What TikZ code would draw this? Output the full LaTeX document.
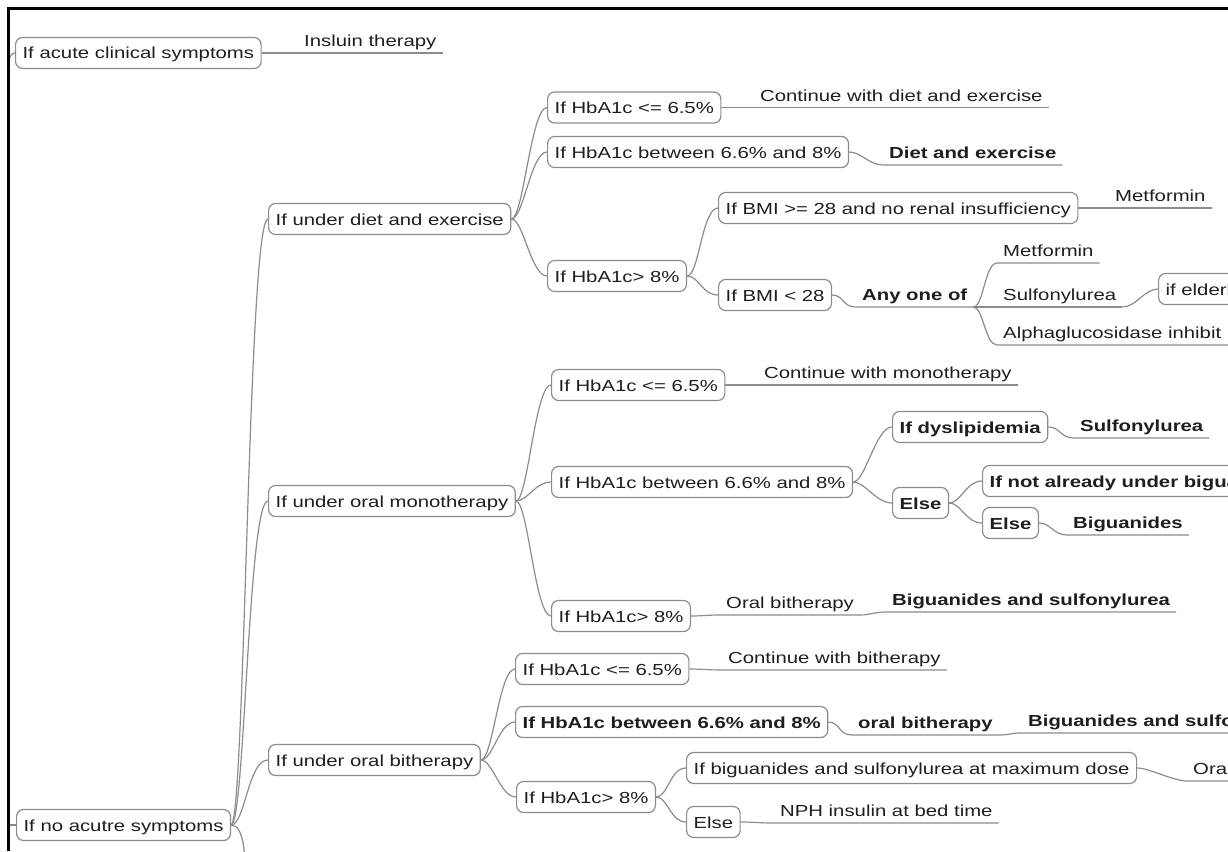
\documentclass[tikz,border=0pt]{standalone}
\usepackage{fontspec}
\setmainfont{Liberation Sans}[FakeStretch=1.27]
\definecolor{lin}{HTML}{8C8C8C}
\definecolor{txt}{HTML}{1E1E1E}
\newcommand{\mmfont}{\fontsize{16pt}{19pt}\selectfont}
\newcommand{\mmlink}[2]{\draw[conn] (#1.east) .. controls +(12,0) and +(-16,0) .. (#2.west);}
\newcommand{\mmleaf}[2]{\draw[conn] (#1.east) .. controls +(12,0) and +(-14,0) .. (#2.south west) -- (#2.south east);}
\newcommand{\mmhub}[2]{\draw[conn] (#1.south east) .. controls +(10,0) and +(-12,0) .. (#2.south west) -- (#2.south east);}
\tikzset{
  base/.style={font=\mmfont, text=txt, text height=12pt, text depth=0pt, inner xsep=7pt},
  box/.style={base, draw=lin, line width=1.2pt, rounded corners=7pt, minimum height=31pt, inner ysep=0pt, anchor=west},
  bbox/.style={box, font=\mmfont\bfseries},
  leaf/.style={base, inner xsep=6pt, inner ysep=6pt, anchor=south west},
  bleaf/.style={leaf, font=\mmfont\bfseries},
  conn/.style={draw=lin, line width=1.2pt},
  frame/.style={draw=black, line width=3pt},
}
\begin{document}
\begin{tikzpicture}[x=1pt,y=-1pt]
\useasboundingbox (0,0) rectangle (1228,851);
\begin{scope}
\clip (10,10) rectangle (1228,851);
% level 0
\node[box] (acute) at (15,53) {If acute clinical symptoms};
\node[leaf] (insulin) at (298,53) {Insluin therapy};
\node[box] (noacute) at (16,825) {If no acutre symptoms};
\coordinate (rootA) at (2,75);
\coordinate (rootB) at (0,825);
\coordinate (offB) at (246,900);
% level 1
\node[box] (diet) at (268,219) {If under diet and exercise};
\node[box] (mono) at (268,501) {If under oral monotherapy};
\node[box] (bi) at (268,760) {If under oral bitherapy};
% diet subtree
\node[box] (d1) at (547,107.5) {If HbA1c <= 6.5\%};
\node[leaf] (cont1) at (754,107.5) {Continue with diet and exercise};
\node[box] (d2) at (547,152) {If HbA1c between 6.6\% and 8\%};
\node[bleaf] (dietex) at (883,165) {Diet and exercise};
\node[box] (d3) at (547,276) {If HbA1c> 8\%};
\node[box] (d31) at (718,208) {If BMI >= 28 and no renal insufficiency};
\node[leaf] (metf1) at (1109,208) {Metformin};
\node[box] (d32) at (718,295) {If BMI < 28};
\node[bleaf] (anyone) at (856,307) {Any one of};
\node[leaf] (metf2) at (997,263) {Metformin};
\node[leaf] (sulf1) at (997,307) {Sulfonylurea};
\node[box] (elderly) at (1158,289) {if elderl\hspace*{30pt}};
\node[leaf] (alpha) at (997,345) {Alphaglucosidase inhibit\hspace*{20pt}};
% mono subtree
\node[box] (m1) at (551,385) {If HbA1c <= 6.5\%};
\node[leaf] (cont2) at (758,385) {Continue with monotherapy};
\node[box] (m2) at (551,482) {If HbA1c between 6.6\% and 8\%};
\node[bbox] (dys) at (892,427) {If dyslipidemia};
\node[bleaf] (sulf2) at (1074,438) {Sulfonylurea};
\node[bbox] (else1) at (892,503) {Else};
\node[bbox] (notbig) at (982,481) {If not already under bigua\hspace*{30pt}};
\node[bbox] (else2) at (982,523) {Else};
\node[bleaf] (bigu) at (1067,535) {Biguanides};
\node[box] (m3) at (551,616) {If HbA1c> 8\%};
\node[leaf] (oralbi) at (720,615) {Oral bitherapy};
\node[bleaf] (bigsulf) at (886,612) {Biguanides and sulfonylurea};
% bi subtree
\node[box] (b1) at (515,669) {If HbA1c <= 6.5\%};
\node[leaf] (cont3) at (722,670) {Continue with bitherapy};
\node[bbox] (b2) at (515,722) {If HbA1c between 6.6\% and 8\%};
\node[bleaf] (oralbi2) at (852,735) {oral bitherapy};
\node[bleaf] (bigsulf2) at (1022,733) {Biguanides and sulfo\hspace*{20pt}};
\node[box] (b3) at (516,797) {If HbA1c> 8\%};
\node[box] (b31) at (686,768) {If biguanides and sulfonylurea at maximum dose};
\node[leaf] (oral3) at (1187,781) {Oral\hspace*{30pt}};
\node[box] (else3) at (686,822) {Else};
\node[leaf] (nph) at (774,823) {NPH insulin at bed time};
% connectors
\draw[conn] (rootA) .. controls +(6,-10) and +(-6,0) .. (acute.west);
\draw[conn] (rootB) -- (noacute.west);
\draw[conn] (acute.east) -- (insulin.south west) -- (insulin.south east);
\draw[conn] (noacute.east) .. controls +(14,0) and +(-20,0) .. (diet.west);
\draw[conn] (noacute.east) .. controls +(14,0) and +(-20,0) .. (mono.west);
\draw[conn] (noacute.east) .. controls +(14,0) and +(-20,0) .. (bi.west);
\draw[conn] (noacute.east) .. controls +(14,0) and +(0,-40) .. (offB);
\mmlink{diet}{d1}
\mmlink{diet}{d2}
\mmlink{diet}{d3}
\mmleaf{d1}{cont1}
\mmleaf{d2}{dietex}
\mmlink{d3}{d31}
\mmlink{d3}{d32}
\mmleaf{d31}{metf1}
\mmleaf{d32}{anyone}
\mmhub{anyone}{metf2}
\mmhub{anyone}{sulf1}
\mmhub{anyone}{alpha}
\draw[conn] (sulf1.south east) .. controls +(14,0) and +(-14,0) .. (elderly.west);
\mmlink{mono}{m1}
\mmlink{mono}{m2}
\mmlink{mono}{m3}
\mmleaf{m1}{cont2}
\mmlink{m2}{dys}
\mmlink{m2}{else1}
\mmleaf{dys}{sulf2}
\mmlink{else1}{notbig}
\mmlink{else1}{else2}
\mmleaf{else2}{bigu}
\mmleaf{m3}{oralbi}
\mmhub{oralbi}{bigsulf}
\mmlink{bi}{b1}
\mmlink{bi}{b2}
\mmlink{bi}{b3}
\mmleaf{b1}{cont3}
\mmleaf{b2}{oralbi2}
\mmhub{oralbi2}{bigsulf2}
\mmlink{b3}{b31}
\mmlink{b3}{else3}
\mmleaf{b31}{oral3}
\mmleaf{else3}{nph}
\end{scope}
\draw[frame] (8.5,851) -- (8.5,8.5) -- (1228,8.5);
\end{tikzpicture}
\end{document}
